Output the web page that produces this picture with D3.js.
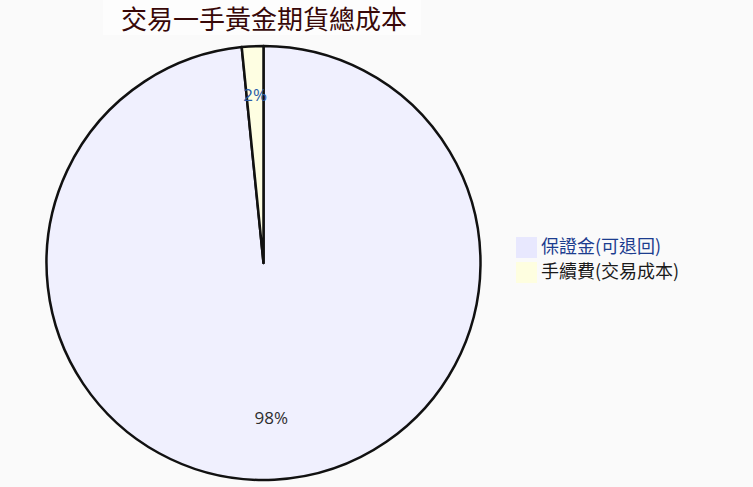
<!DOCTYPE html>
<html lang="zh-Hant">
<head>
<meta charset="UTF-8">
<title>交易一手黃金期貨總成本</title>
<script src="https://d3js.org/d3.v7.min.js"></script>
<style>
    body { margin: 0; background: #fafafa; font-family: "Noto Sans CJK TC", "Noto Sans", sans-serif; }
    svg { display: block; }
</style>
</head>
<body>
<div id="chart"></div>
<script>
// data
const categories = ["保證金(可退回)", "手續費(交易成本)"];
const values = [98.4, 1.6];
const valueLabels = ["98%", "2%"];
const fills = ["#f0f0fe", "#fefee2"];
const legendFills = ["#e8e8fe", "#fefee0"];
const legendText = ["#1c3d8f", "#1a1a1a"];
const labelColors = ["#2e2e2e", "#2a5ca8"];

const width = 753, height = 487;
const cx = 263.5, cy = 263, radius = 217;

const svg = d3.select("#chart").append("svg")
    .attr("width", width)
    .attr("height", height);

svg.append("rect").attr("width", width).attr("height", height).attr("fill", "#fafafa");

// title with its lighter box
svg.append("rect")
    .attr("x", 103).attr("y", 0).attr("width", 318).attr("height", 35)
    .attr("fill", "#fdfdfd");
svg.append("text")
    .attr("x", 264).attr("y", 29)
    .attr("text-anchor", "middle")
    .attr("fill", "#380808")
    .style("font-size", "26px")
    .style("font-weight", "400")
    .text("交易一手黃金期貨總成本");

const pie = d3.pie().sort(null).value(d => d)(values);
const arc = d3.arc().innerRadius(0).outerRadius(radius);

const g = svg.append("g").attr("transform", `translate(${cx},${cy})`);

g.selectAll("path.slice")
    .data(pie)
    .enter()
    .append("path")
    .attr("class", "slice")
    .attr("d", arc)
    .attr("fill", (d, i) => fills[i])
    .attr("stroke", "#111")
    .attr("stroke-width", 2.5)
    .attr("stroke-linejoin", "round");

const labelRadius = [155, 168];
g.selectAll("text.lbl")
    .data(pie)
    .enter()
    .append("text")
    .attr("class", "lbl")
    .attr("transform", (d, i) => {
        const a = (d.startAngle + d.endAngle) / 2;
        return `translate(${Math.sin(a) * labelRadius[i]},${-Math.cos(a) * labelRadius[i]})`;
    })
    .attr("text-anchor", "middle")
    .attr("dy", "0.35em")
    .attr("fill", (d, i) => labelColors[i])
    .style("font-family", "'Open Sans', 'Noto Sans', sans-serif")
    .style("font-size", "17px")
    .text((d, i) => valueLabels[i]);

// legend
const legend = svg.append("g").attr("transform", "translate(516,237)");
const item = legend.selectAll("g")
    .data(categories)
    .enter()
    .append("g")
    .attr("transform", (d, i) => `translate(0,${i * 25})`);
item.append("rect")
    .attr("width", 21).attr("height", 21)
    .attr("fill", (d, i) => legendFills[i]);
item.append("text")
    .attr("x", 25).attr("y", 16)
    .attr("fill", (d, i) => legendText[i])
    .style("font-size", "18px")
    .style("font-weight", "400")
    .text(d => d);
</script>
</body>
</html>
